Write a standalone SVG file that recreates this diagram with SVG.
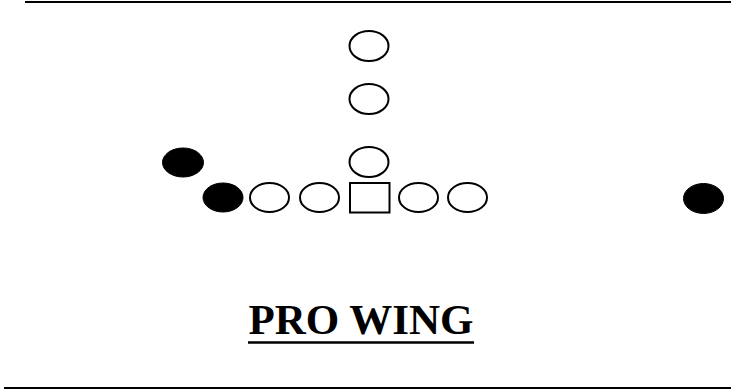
<svg xmlns="http://www.w3.org/2000/svg" width="731" height="392" viewBox="0 0 731 392">
<style>
.o{fill:#fff;stroke:#000;stroke-width:2}
.d{fill:#000;stroke:#000;stroke-width:1}
.t{font-family:"Liberation Serif","Times New Roman",serif;font-weight:bold;font-size:43px;fill:#000}
</style>
<rect width="731" height="392" fill="#fff"/>
<line x1="25" y1="2" x2="731" y2="2" stroke="#000" stroke-width="2"/>
<line x1="4" y1="388" x2="731" y2="388" stroke="#000" stroke-width="2"/>
<g id="back1"><ellipse class="o" cx="369" cy="46" rx="19.5" ry="15"/></g>
<g id="back2"><ellipse class="o" cx="369" cy="99" rx="19.5" ry="15"/></g>
<g id="qb"><ellipse class="o" cx="369" cy="162" rx="19.5" ry="15"/></g>
<g id="wing"><ellipse class="d" cx="183" cy="162.5" rx="20.5" ry="14.5"/></g>
<g id="te"><ellipse class="d" cx="223" cy="197.5" rx="20" ry="14.5"/></g>
<g id="lt"><ellipse class="o" cx="269.5" cy="197.5" rx="19.5" ry="14.5"/></g>
<g id="lg"><ellipse class="o" cx="319.5" cy="197.5" rx="19.5" ry="14.5"/></g>
<g id="center"><rect class="o" x="350" y="183" width="39.5" height="29.5"/></g>
<g id="rg"><ellipse class="o" cx="418.5" cy="197.5" rx="19.5" ry="14.5"/></g>
<g id="rt"><ellipse class="o" cx="467.5" cy="197.5" rx="19.5" ry="14.5"/></g>
<g id="split"><ellipse class="d" cx="703.5" cy="198.5" rx="20" ry="15"/></g>
<g id="title">
<text class="t" x="361" y="334" text-anchor="middle">PRO WING</text>
<line x1="248" y1="342.5" x2="474" y2="342.5" stroke="#000" stroke-width="2.5"/>
</g>
</svg>
